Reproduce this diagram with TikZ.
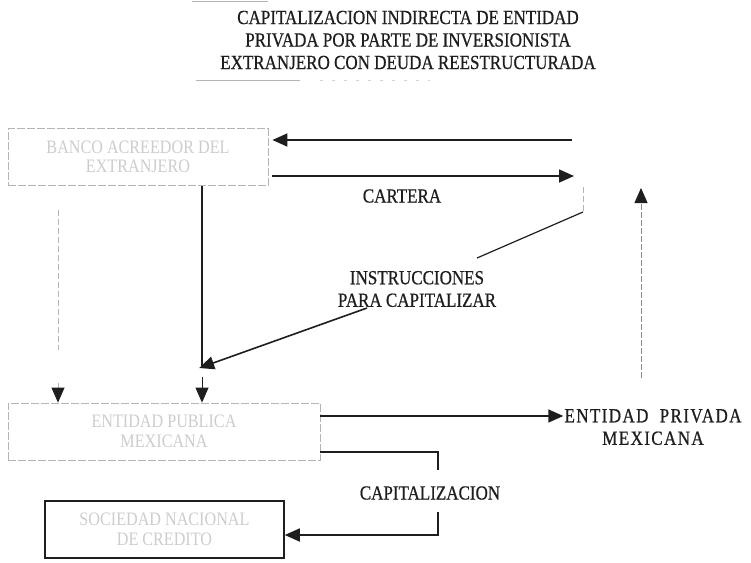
\documentclass[tikz,border=0pt]{standalone}
\usepackage{fontspec}
\setmainfont{Liberation Serif}[FakeStretch=0.85]
\usetikzlibrary{arrows.meta}
\definecolor{ink}{HTML}{1E1E1E}
\definecolor{ghosttext}{HTML}{CDCDCD}
\definecolor{faintline}{HTML}{B4B4B4}
\definecolor{midline}{HTML}{8A8A8A}
\begin{document}
\begin{tikzpicture}[x=1pt,y=-1pt,
  lbl/.style={font=\fontsize{20}{22.5}\selectfont\addfontfeature{FakeBold=0.6}, text=ink, align=center, inner sep=0pt},
  ghost/.style={font=\fontsize{19}{19.5}\selectfont, text=ghosttext, align=center, inner sep=0pt},
  fadedbox/.style={draw=faintline, line width=0.8pt, dash pattern=on 8pt off 2pt, minimum width=#1, minimum height=57pt, inner sep=0pt},
  solidbox/.style={draw=ink, line width=1.5pt, minimum width=#1, minimum height=57pt, inner sep=0pt},
  head/.style={-{Triangle[length=15pt,width=13pt,color=ink]}},
  arr/.style={draw=ink, line width=1.6pt, head},
  thinarr/.style={draw=ink, line width=0.9pt, head},
  fadedarr/.style={draw=midline, line width=0.9pt, dash pattern=on 6pt off 2pt, head},
  wire/.style={draw=ink, line width=1.2pt},
  faintwire/.style={draw=faintline, line width=0.9pt, dash pattern=on 6pt off 3pt}
]
\useasboundingbox[fill=white] (0,0) rectangle (751,562);

% title
\node[lbl] (title) at (408,40) {CAPITALIZACION INDIRECTA DE ENTIDAD\\PRIVADA POR PARTE DE INVERSIONISTA\\EXTRANJERO CON DEUDA REESTRUCTURADA};
\coordinate (ul1) at (196,80);
\coordinate (ul2) at (300,80);
\coordinate (ul3) at (320,80);
\coordinate (ul4) at (430,80);
\draw[faintline, line width=0.8pt] (ul1) -- (ul2);
\draw[faintline!60, line width=0.8pt, dash pattern=on 3pt off 9pt] (ul3) -- (ul4);
\coordinate (tl1) at (192,1);
\coordinate (tl2) at (268,1);
\draw[faintline, line width=0.8pt] (tl1) -- (tl2);

% boxes
\node[fadedbox=260pt, ghost] (banco) at (138,157) {BANCO ACREEDOR DEL\\EXTRANJERO};
\node[fadedbox=312pt, ghost] (pub) at (164,431.5) {ENTIDAD PUBLICA\\MEXICANA};
\node[solidbox=239pt, ghost] (soc) at (164.5,529.5) {SOCIEDAD NACIONAL\\DE CREDITO};
\node[lbl, font=\fontsize{20}{22.5}\selectfont\addfontfeature{LetterSpace=7,FakeBold=0.6}] (priv) at (653,427) {ENTIDAD\ \ PRIVADA\\MEXICANA};

% labels
\node[lbl] (cartera) at (402,196) {CARTERA};
\node[lbl] (instr) at (417,289) {INSTRUCCIONES\\PARA CAPITALIZAR};
\node[lbl] (capit) at (430,493) {CAPITALIZACION};

% free ends on the right (unlabelled party)
\coordinate (inv1) at (572,140);
\coordinate (inv2) at (574,176);
\coordinate (inv3) at (583,187);
\coordinate (inv4) at (641,188);
\coordinate (dc) at (583,212);
\coordinate (d1) at (477,258);
\coordinate (d2) at (367,308);
\coordinate (meet) at (202,367);
\coordinate (meet2) at (202,377);
\coordinate (lft1) at (58,210);
\coordinate (lft2) at (58,350);
\coordinate (lft3) at (58,383);
\coordinate (pr1) at (641,378);
\coordinate (c1) at (438,452);
\coordinate (c2) at (438,470);
\coordinate (c3) at (438,512);
\coordinate (c4) at (438,535);
\coordinate (pa) at (320,416);

% top arrows
\draw[arr, shorten >=4pt] (inv1) -- (inv1 -| banco.east);
\draw[arr, shorten <=4pt] (inv2 -| banco.east) -- (inv2);

% vertical lines from banco to pub
\draw[wire] (banco.south -| meet) -- (meet);
\draw[thinarr] (meet2) -- (pub.north -| meet2);
\draw[faintwire] (lft1) -- (lft2);
\draw[thinarr, draw=faintline] (lft3) -- (pub.north -| lft3);

% instrucciones diagonal
\draw[faintwire] (inv3) -- (dc);
\draw[wire] (dc) -- (d1);
\draw[arr, shorten >=-3pt] (d2) -- (meet);

% pub -> priv
\draw[arr, shorten >=1pt] (pa) -- (pa -| priv.west);

% priv -> up
\draw[fadedarr] (pr1) -- (inv4);

% capitalizacion
\draw[wire] (c1 -| pub.east) -- (c1) -- (c2);
\draw[arr] (c3) -- (c4) -- (c4 -| soc.east);
\end{tikzpicture}
\end{document}
